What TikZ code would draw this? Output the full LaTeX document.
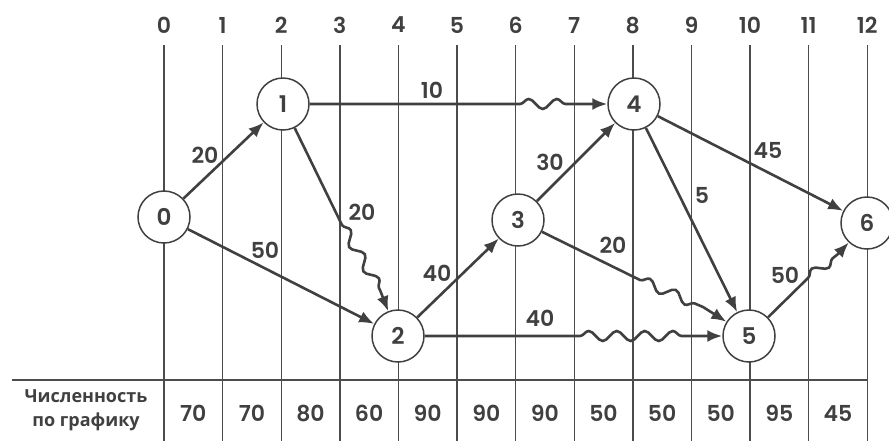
\documentclass[tikz,border=0pt]{standalone}
\usepackage{fontspec}
\setmainfont{Poppins SemiBold}
\newfontfamily\cyrfont{Open Sans}
\usetikzlibrary{arrows.meta}
\usetikzlibrary{decorations.pathmorphing}
\usetikzlibrary{positioning}

\tikzset{
  event/.style={circle,draw=black!75,fill=white,line width=0.75pt,
    minimum size=26pt,inner sep=0pt,text=black!75,font=\fontsize{11.5}{12}\selectfont},
  work/.style={draw=black!75,line width=1.3pt,-{Latex[length=7.5pt,width=6pt]}},
  wavy/.style={decoration={snake,segment length=14pt,amplitude=2.5pt}},
  gridline/.style={black!70,line width=0.7pt},
  lbl/.style={text=black!75,inner sep=1pt,font=\fontsize{11}{12}\selectfont}
}

\begin{document}
\begin{tikzpicture}[x=0.5pt,y=-0.5pt]
\useasboundingbox (0,0) rectangle (889,441);

% time scale
\foreach \t in {0,...,12}{
  \draw[gridline] ({164+58.6*\t},45) -- ({164+58.6*\t},441);
  \node[lbl] (t\t) at ({164+58.6*\t},25) {\t};
}
\draw[gridline] (12,380) -- (867,380);

% table
\node[align=center,text=black!75,inner sep=0pt,
  font=\fontsize{9}{12}\selectfont\cyrfont\bfseries] (plan) at (86,410)
  {Численность\\по графику};
\foreach \v [count=\i from 0] in {70,70,80,60,90,90,90,50,50,50,95,45}
  \node[lbl] (v\i) at ({164+58.6*(\i+0.5)},413) {\v};

% events
\node[event] (n0) at (164,217) {0};
\node[event] (n1) at (283,104) {1};
\node[event] (n2) at (398,336) {2};
\node[event] (n3) at (518,220) {3};
\node[event] (n4) at (634,104) {4};
\node[event] (n5) at (749,336) {5};
\node[event] (n6) at (867,223) {6};

\coordinate (w14a) at (520,104);
\coordinate (w14b) at (577,104);
\coordinate (w12a) at (342,225);
\coordinate (w12b) at (380,290);
\coordinate (w25a) at (580,336);
\coordinate (w25b) at (695,336);
\coordinate (w35a) at (640,280);
\coordinate (w35b) at (703,307);
\coordinate (w56a) at (808,278);
\coordinate (w56b) at (838,254);

% works
\draw[work] (n0) -- (n1);
\draw[work] (n0) -- (n2);
\draw[work] (n1) -- (w14a) decorate[wavy]{-- (w14b)} -- (n4);
\draw[work] (n1) -- (w12a) decorate[wavy]{-- (w12b)} -- (n2);
\draw[work] (n2) -- (n3);
\draw[work] (n3) -- (n4);
\draw[work] (n2) -- (w25a) decorate[wavy]{-- (w25b)} -- (n5);
\draw[work] (n3) -- (w35a) decorate[wavy]{-- (w35b)} -- (n5);
\draw[work] (n4) -- (n5);
\draw[work] (n4) -- (n6);
\draw[work] (n5) -- (w56a) decorate[wavy]{-- (w56b)} -- (n6);

% durations
\node[lbl] (l01) at (205,155) {20};
\node[lbl] (l02) at (265,250) {50};
\node[lbl] (l14) at (432,90) {10};
\node[lbl] (l12) at (362,212) {20};
\node[lbl] (l23) at (437,273) {40};
\node[lbl] (l34) at (550,162) {30};
\node[lbl] (l25) at (540,318) {40};
\node[lbl] (l35) at (613,245) {20};
\node[lbl] (l45) at (702,195) {5};
\node[lbl] (l46) at (768,150) {45};
\node[lbl] (l56) at (785,275) {50};
\end{tikzpicture}
\end{document}
